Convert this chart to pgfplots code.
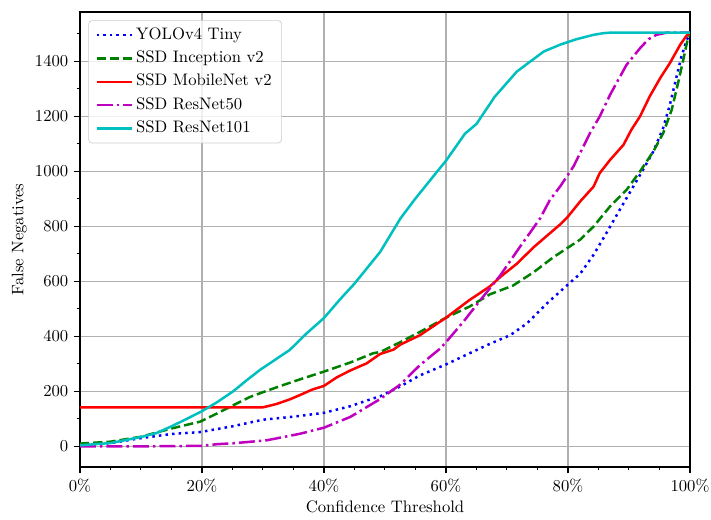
\documentclass[border=0pt]{standalone}
\usepackage{pgfplots}
\pgfplotsset{compat=1.18}
\definecolor{mblue}{rgb}{0,0,1}
\definecolor{mgreen}{rgb}{0,0.5,0}
\definecolor{mred}{rgb}{1,0,0}
\definecolor{mmag}{rgb}{0.75,0,0.75}
\definecolor{mcyan}{rgb}{0,0.75,0.75}
\definecolor{gridgray}{HTML}{B0B0B0}
\definecolor{legedge}{gray}{0.8}
\begin{document}
\begin{tikzpicture}
\useasboundingbox (-48pt,-31.8pt) rectangle (378.6pt,280.2pt);
\begin{axis}[
  at={(0pt,0pt)}, anchor=south west,
  scale only axis, width=366pt, height=273pt,
  xmin=0, xmax=1, ymin=-75, ymax=1580,
  xtick={0,0.2,0.4,0.6,0.8,1},
  xticklabels={0\%,20\%,40\%,60\%,80\%,100\%},
  minor xtick={0.05,0.1,0.15,0.25,0.3,0.35,0.45,0.5,0.55,0.65,0.7,0.75,0.85,0.9,0.95},
  ytick={0,200,400,600,800,1000,1200,1400},
  minor ytick={-100,100,300,500,700,900,1100,1300,1500},
  /pgf/number format/1000 sep={},
  xtick pos=bottom, ytick pos=left,
  tick align=outside,
  major tick length=3.5pt, minor tick length=2pt,
  every tick/.style={black, line width=0.8pt},
  every minor tick/.style={black, line width=0.6pt},
  axis line style={black, line width=0.8pt},
  grid=major,
  major grid style={gridgray, line width=0.8pt},
  xlabel={Confidence Threshold},
  ylabel={False Negatives},
  xlabel style={yshift=2pt},
  ylabel style={yshift=-2pt},
  tick label style={font=\fontsize{10}{12}\selectfont},
  label style={font=\fontsize{10}{12}\selectfont},
  legend style={at={(0,1)}, anchor=north west, xshift=5pt, yshift=-5pt,
    draw=legedge, rounded corners=2pt, fill=white, fill opacity=0.8, text opacity=1,
    font=\fontsize{10}{12}\selectfont, inner xsep=4pt, inner ysep=3.2pt,
    nodes={text height=7pt, text depth=2pt, inner ysep=1pt, inner xsep=2pt}, row sep=3pt,
    /tikz/every even column/.append style={column sep=7.5pt}},
  legend cell align=left,
  legend image code/.code={\draw[#1, line width=1.5pt, draw opacity=1] (0pt,0pt) -- (21pt,0pt);},
]
\addplot[mblue, line width=1.5pt, dash pattern=on 1.5pt off 2.475pt] coordinates {
(0,5)(0.05,12)(0.10,30)(0.15,45)(0.197,52)(0.25,73)(0.30,97)(0.35,108)(0.40,122)(0.443,146)(0.48,174)(0.492,182)(0.525,218)(0.557,258)(0.60,298)(0.639,339)(0.672,373)(0.705,404)(0.732,446)(0.765,519)(0.80,589)(0.82,628)(0.842,697)(0.863,776)(0.885,861)(0.907,945)(0.923,1006)(0.94,1073)(0.956,1158)(0.967,1242)(0.978,1345)(0.986,1418)(0.993,1467)(1.0,1505)};
\addlegendentry{YOLOv4 Tiny}
\addplot[mgreen, line width=1.5pt, dash pattern=on 5.55pt off 2.4pt] coordinates {
(0,10)(0.05,17)(0.10,35)(0.15,65)(0.197,90)(0.225,120)(0.257,156)(0.279,180)(0.306,202)(0.333,223)(0.361,244)(0.40,272)(0.443,305)(0.481,339)(0.492,343)(0.525,379)(0.557,416)(0.60,468)(0.639,509)(0.672,553)(0.71,585)(0.744,634)(0.776,688)(0.80,723)(0.82,752)(0.842,800)(0.869,873)(0.896,933)(0.918,1000)(0.94,1073)(0.956,1139)(0.97,1224)(0.981,1327)(0.989,1406)(0.996,1479)(1.0,1505)};
\addlegendentry{SSD Inception v2}
\addplot[mred, line width=1.5pt] coordinates {
(0,142)(0.30,142)(0.322,154)(0.344,171)(0.361,187)(0.38,206)(0.40,220)(0.421,251)(0.443,276)(0.47,302)(0.492,336)(0.514,352)(0.525,370)(0.557,404)(0.60,468)(0.639,533)(0.672,582)(0.689,616)(0.716,664)(0.744,725)(0.787,807)(0.80,836)(0.82,891)(0.842,945)(0.852,994)(0.869,1042)(0.891,1097)(0.904,1152)(0.918,1200)(0.934,1273)(0.951,1339)(0.967,1394)(0.984,1461)(0.994,1493)(1.0,1505)};
\addlegendentry{SSD MobileNet v2}
\addplot[mmag, line width=1.5pt, dash pattern=on 9.6pt off 2.4pt on 1.5pt off 2.4pt] coordinates {
(0,0)(0.10,0)(0.20,2)(0.225,8)(0.25,11)(0.306,22)(0.361,46)(0.40,68)(0.443,107)(0.492,172)(0.525,225)(0.557,295)(0.59,355)(0.60,379)(0.628,452)(0.656,531)(0.689,622)(0.721,725)(0.754,828)(0.77,895)(0.787,945)(0.809,1018)(0.836,1139)(0.852,1200)(0.869,1279)(0.896,1388)(0.918,1448)(0.932,1481)(0.945,1497)(0.962,1505)(1.0,1505)};
\addlegendentry{SSD ResNet50}
\addplot[mcyan, line width=1.5pt] coordinates {
(0,4)(0.05,12)(0.10,34)(0.125,48)(0.15,73)(0.175,100)(0.20,128)(0.225,161)(0.251,200)(0.273,240)(0.295,278)(0.344,351)(0.372,412)(0.40,467)(0.426,534)(0.45,592)(0.492,707)(0.525,828)(0.549,899)(0.582,990)(0.60,1039)(0.631,1137)(0.65,1173)(0.68,1272)(0.716,1363)(0.76,1436)(0.787,1461)(0.814,1481)(0.842,1497)(0.858,1503)(0.87,1505)(1.0,1505)};
\addlegendentry{SSD ResNet101}
\end{axis}
\end{tikzpicture}
\end{document}
